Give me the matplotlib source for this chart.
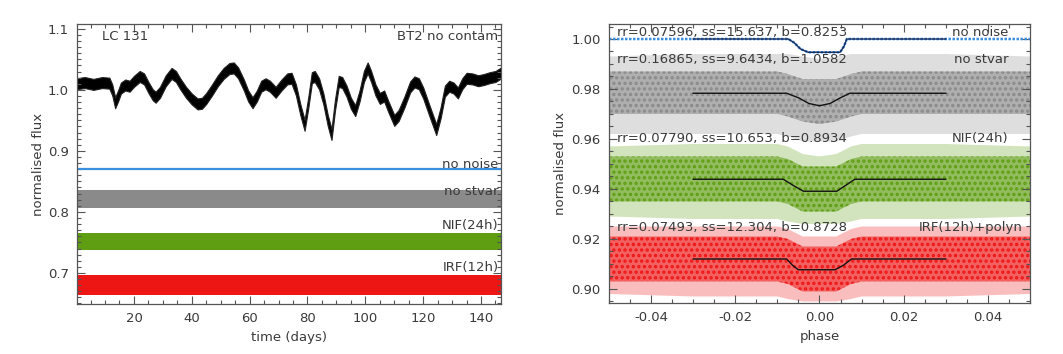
import matplotlib
matplotlib.use("Agg")
import matplotlib.pyplot as plt
import numpy as np
from matplotlib.ticker import MultipleLocator, FormatStrFormatter

# ---------------- data ----------------
# Left panel: light curve LC 131 (centre of the black noisy band)
lc_time = [0, 3, 6, 9, 11.5, 12.5, 13.5, 14.5, 15.5, 17, 18.5, 20, 22, 23.5, 25,
           26.5, 27.5, 29, 31, 33, 34.5, 36, 38, 40, 42, 43.5, 45, 47, 49, 51,
           53, 54.5, 56, 58, 59.5, 61, 62.5, 64, 65.5, 67, 69, 71, 73, 74.5, 76,
           77.5, 79, 80.3, 81.5, 82.5, 84, 85.5, 87, 88.3, 89.5, 90.8, 92, 93.5,
           95, 96.5, 98, 99.5, 100.8, 102, 103.5, 105, 106.5, 108, 110, 111.5,
           113.5, 115.5, 117, 118.5, 120, 122, 124.5, 126, 127.5, 129, 130.5,
           132, 133.5, 135, 137, 139, 141, 143, 145, 147]
lc_flux = [1.010, 1.012, 1.009, 1.012, 1.011, 1.000, 0.979, 0.990, 1.003, 1.008,
           1.006, 1.014, 1.022, 1.018, 1.004, 0.992, 0.988, 0.996, 1.015, 1.027,
           1.022, 1.010, 0.996, 0.985, 0.977, 0.978, 0.986, 1.000, 1.015, 1.027,
           1.035, 1.036, 1.028, 1.008, 0.990, 0.979, 0.990, 1.006, 1.010, 1.006,
           0.996, 1.008, 1.018, 1.019, 1.000, 0.968, 0.942, 0.980, 1.020, 1.022,
           1.010, 0.985, 0.950, 0.927, 0.975, 1.014, 1.012, 0.998, 0.978, 0.966,
           0.990, 1.022, 1.036, 1.022, 1.000, 0.986, 0.990, 0.972, 0.950, 0.958,
           0.980, 1.005, 1.013, 1.010, 0.995, 0.968, 0.935, 0.962, 0.998, 1.006,
           1.003, 0.995, 1.010, 1.019, 1.018, 1.015, 1.017, 1.020, 1.022, 1.028]
lc_halfwidth = 0.009

time_span = [0, 147]
nonoise_level = 0.871
# noisy offset series: (lower, upper) envelope of the band
stvar_band = (0.806, 0.836)
nif_band = (0.737, 0.765)
irf_band = (0.663, 0.696)

left_labels = ["no noise", "no stvar", "NIF(24h)", "IRF(12h)"]
left_label_y = [0.878, 0.834, 0.778, 0.709]

# Right panel: phase-folded transits
model_span = [-0.03, 0.03]

blue_phase = [-0.05, -0.0074, -0.006, -0.0045, -0.0027, 0.0049, 0.0058, 0.0065, 0.05]
blue_flux = [1.0, 1.0, 0.9985, 0.9960, 0.9947, 0.9947, 0.9970, 1.0, 1.0]

gray_phase = [-0.03, -0.0078, -0.005, -0.0025, 0.0, 0.0025, 0.005, 0.0072, 0.03]
gray_flux = [0.9783, 0.9783, 0.9765, 0.9742, 0.9733, 0.9742, 0.9765, 0.9783, 0.9783]

green_phase = [-0.03, -0.0086, -0.006, -0.0038, 0.0041, 0.006, 0.0084, 0.03]
green_flux = [0.9439, 0.9439, 0.9412, 0.9391, 0.9391, 0.9412, 0.9439, 0.9439]

red_phase = [-0.03, -0.0078, -0.0064, -0.005, 0.0037, 0.0057, 0.0076, 0.03]
red_flux = [0.912, 0.912, 0.9095, 0.9077, 0.9077, 0.9095, 0.912, 0.912]

# scatter envelopes (outer = sparse points, inner = dense core)
env_phase = [-0.05, -0.03, -0.01, -0.0075, -0.004, 0.0, 0.004, 0.0075, 0.01, 0.03, 0.05]
gray_outer_lo = [0.962, 0.962, 0.962, 0.961, 0.959, 0.959, 0.959, 0.961, 0.962, 0.962, 0.962]
gray_outer_hi = [0.993, 0.994, 0.994, 0.994, 0.993, 0.992, 0.993, 0.994, 0.994, 0.994, 0.993]
gray_inner_lo = [0.970, 0.970, 0.970, 0.969, 0.967, 0.966, 0.967, 0.969, 0.970, 0.970, 0.970]
gray_inner_hi = [0.987, 0.987, 0.987, 0.986, 0.984, 0.984, 0.984, 0.986, 0.987, 0.987, 0.987]

green_outer_lo = [0.929, 0.928, 0.928, 0.927, 0.926, 0.926, 0.926, 0.927, 0.928, 0.928, 0.929]
green_outer_hi = [0.957, 0.958, 0.958, 0.957, 0.954, 0.953, 0.954, 0.957, 0.958, 0.958, 0.957]
green_inner_lo = [0.935, 0.935, 0.935, 0.934, 0.931, 0.931, 0.931, 0.934, 0.935, 0.935, 0.935]
green_inner_hi = [0.953, 0.953, 0.953, 0.952, 0.949, 0.949, 0.949, 0.952, 0.953, 0.953, 0.953]

red_outer_lo = [0.898, 0.897, 0.897, 0.896, 0.895, 0.895, 0.895, 0.896, 0.897, 0.897, 0.898]
red_outer_hi = [0.925, 0.925, 0.925, 0.924, 0.921, 0.921, 0.921, 0.924, 0.925, 0.925, 0.925]
red_inner_lo = [0.903, 0.903, 0.903, 0.902, 0.899, 0.899, 0.899, 0.902, 0.903, 0.903, 0.903]
red_inner_hi = [0.921, 0.921, 0.921, 0.920, 0.917, 0.917, 0.917, 0.920, 0.921, 0.921, 0.921]

fit_texts = ["rr=0.07596, ss=15.637, b=0.8253",
             "rr=0.16865, ss=9.6434, b=1.0582",
             "rr=0.07790, ss=10.653, b=0.8934",
             "rr=0.07493, ss=12.304, b=0.8728"]
right_labels = ["no noise", "no stvar", "NIF(24h)", "IRF(12h)+polyn"]
right_text_y = [1.0025, 0.9916, 0.9600, 0.9244]
right_label_x = [0.0448, 0.0448, 0.0448, 0.0482]

# ---------------- style ----------------
TXT = "#3a3a3a"
BLACK = "#000000"
GRAY = "#8a8a8a"
GREEN = "#5f9e12"
RED = "#ee1515"
BLUE = "#3b8fe0"
NAVY = "#14285a"

plt.rcParams["font.family"] = ["DejaVu Sans"]
plt.rcParams["font.size"] = 9.5
plt.rcParams["text.color"] = TXT
plt.rcParams["axes.labelcolor"] = TXT
plt.rcParams["xtick.color"] = "#555555"
plt.rcParams["ytick.color"] = "#555555"
plt.rcParams["xtick.labelcolor"] = TXT
plt.rcParams["ytick.labelcolor"] = TXT
plt.rcParams["axes.edgecolor"] = "#555555"
plt.rcParams["hatch.linewidth"] = 1.6

fig = plt.figure(figsize=(10.63, 3.54), dpi=100)
axL = fig.add_axes([0.0724, 0.1412, 0.3989, 0.7910])
axR = fig.add_axes([0.5729, 0.1441, 0.3960, 0.7881])


def style(ax):
    ax.tick_params(which="both", direction="in", top=True, right=True,
                   width=0.8, labelsize=9.5, pad=6)
    ax.tick_params(which="major", length=6)
    ax.tick_params(which="minor", length=3)
    for s in ax.spines.values():
        s.set_linewidth(0.9)


# ---------------- left panel ----------------
t = np.array(lc_time)
f = np.array(lc_flux)
axL.fill_between(t, f - lc_halfwidth, f + lc_halfwidth, facecolor=BLACK,
                 edgecolor="#222222", lw=0.8)
axL.plot(time_span, [nonoise_level] * 2, color=BLUE, lw=1.6)
for band, col in [(stvar_band, GRAY), (nif_band, GREEN), (irf_band, RED)]:
    axL.fill_between(time_span, [band[0]] * 2, [band[1]] * 2, color=col, lw=0)

axL.set_xlim(0.3, 146.9)
axL.set_ylim(0.649, 1.108)
axL.xaxis.set_minor_locator(MultipleLocator(5))
axL.yaxis.set_major_locator(MultipleLocator(0.1))
axL.yaxis.set_minor_locator(MultipleLocator(0.01))
axL.yaxis.set_major_formatter(FormatStrFormatter("%.1f"))
axL.set_xticks([20, 40, 60, 80, 100, 120, 140])
style(axL)
axL.set_xlabel("time (days)", labelpad=4)
axL.set_ylabel("normalised flux", labelpad=2)

axL.text(9.0, 1.088, "LC 131", ha="left", va="center")
axL.text(146.0, 1.088, "BT2 no contam", ha="right", va="center")
for lab, y in zip(left_labels, left_label_y):
    axL.text(146.0, y, lab, ha="right", va="center")

# ---------------- right panel ----------------
ep = np.array(env_phase)
for olo, ohi, ilo, ihi, col in [
        (gray_outer_lo, gray_outer_hi, gray_inner_lo, gray_inner_hi, GRAY),
        (green_outer_lo, green_outer_hi, green_inner_lo, green_inner_hi, GREEN),
        (red_outer_lo, red_outer_hi, red_inner_lo, red_inner_hi, RED)]:
    axR.fill_between(ep, olo, ohi, facecolor=col, alpha=0.28, lw=0)
    axR.fill_between(ep, ilo, ihi, facecolor=col, alpha=0.55, lw=0)
    axR.fill_between(ep, ilo, ihi, facecolor="none", edgecolor=col,
                     hatch="...", lw=0)

axR.plot(blue_phase, blue_flux, color=BLUE, lw=1.8, ls=(0, (1, 0.6)))
bp = np.array(blue_phase)
mask = (bp >= model_span[0]) & (bp <= model_span[1])
axR.plot(np.r_[model_span[0], bp[mask], model_span[1]],
         np.r_[1.0, np.array(blue_flux)[mask], 1.0], color=NAVY, lw=1.0)
axR.plot(gray_phase, gray_flux, color="#111111", lw=1.0)
axR.plot(green_phase, green_flux, color="#111111", lw=1.0)
axR.plot(red_phase, red_flux, color="#111111", lw=1.0)

axR.set_xlim(-0.05, 0.05)
axR.set_ylim(0.8944, 1.006)
axR.xaxis.set_major_locator(MultipleLocator(0.02))
axR.xaxis.set_minor_locator(MultipleLocator(0.005))
axR.yaxis.set_major_locator(MultipleLocator(0.02))
axR.yaxis.set_minor_locator(MultipleLocator(0.005))
axR.xaxis.set_major_formatter(FormatStrFormatter("%.2f"))
axR.yaxis.set_major_formatter(FormatStrFormatter("%.2f"))
style(axR)
axR.set_xlabel("phase", labelpad=4)
axR.set_ylabel("normalised flux", labelpad=3)

for txt, lab, y, lx in zip(fit_texts, right_labels, right_text_y, right_label_x):
    axR.text(-0.048, y, txt, ha="left", va="center")
    axR.text(lx, y, lab, ha="right", va="center")

fig.savefig("out.png", dpi=100)
